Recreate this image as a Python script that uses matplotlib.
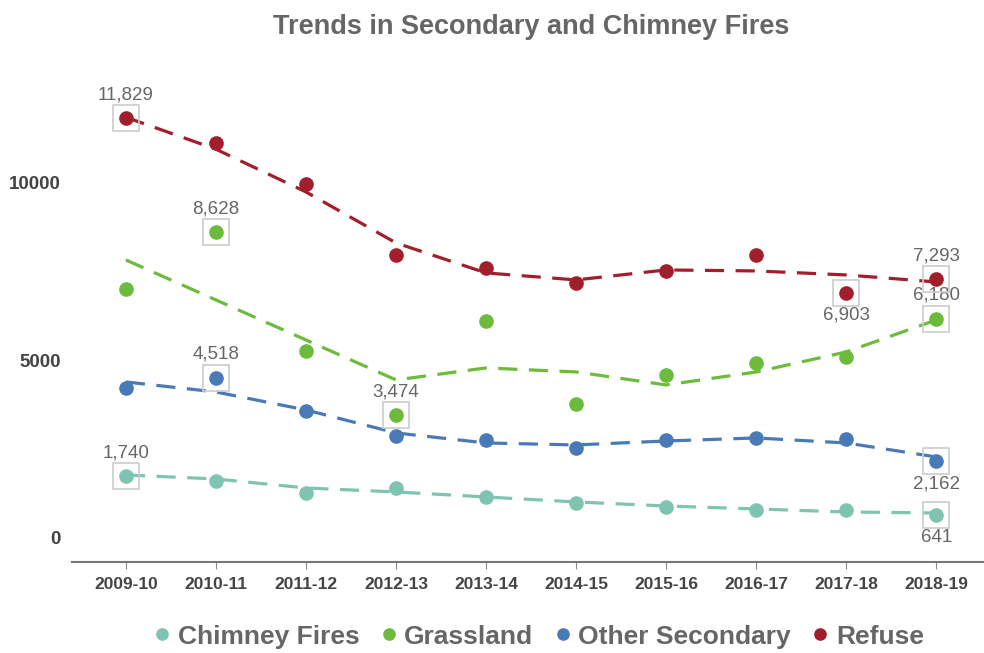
import numpy as np
import matplotlib
matplotlib.use("Agg")
import matplotlib.pyplot as plt

years = ["2009-10", "2010-11", "2011-12", "2012-13", "2013-14",
         "2014-15", "2015-16", "2016-17", "2017-18", "2018-19"]

# observed values (dots)
chimney = [1740, 1606, 1268, 1408, 1155, 986, 873, 789, 789, 641]
grassland = [7014, 8628, 5268, 3474, 6113, 3775, 4592, 4930, 5099, 6180]
other_secondary = [4225, 4518, 3577, 2873, 2761, 2535, 2761, 2817, 2789, 2162]
refuse = [11829, 11127, 9972, 7972, 7606, 7183, 7521, 7972, 6903, 7293]

# smoothed trend values (dashed lines)
chimney_trend = [1775, 1662, 1408, 1296, 1155, 1014, 901, 817, 732, 704]
grassland_trend = [7831, 6704, 5577, 4451, 4789, 4676, 4310, 4676, 5239, 6141]
other_trend = [4394, 4113, 3606, 2958, 2676, 2620, 2732, 2817, 2676, 2282]
refuse_trend = [11850, 10950, 9746, 8310, 7465, 7268, 7549, 7521, 7408, 7211]

# labelled points: (year index, position)
labels_chimney = [(0, "above"), (9, "below")]
labels_grass = [(1, "above"), (3, "above"), (9, "above")]
labels_other = [(1, "above"), (9, "below")]
labels_refuse = [(0, "above"), (8, "below"), (9, "above")]

names = ["Chimney Fires", "Grassland", "Other Secondary", "Refuse"]
colors = ["#7fc4b1", "#6cbb3c", "#4a7ab6", "#a11f2c"]

series = [
    (chimney, chimney_trend, labels_chimney),
    (grassland, grassland_trend, labels_grass),
    (other_secondary, other_trend, labels_other),
    (refuse, refuse_trend, labels_refuse),
]

grey = "#666666"
font = ["Liberation Sans", "DejaVu Sans"]

fig = plt.figure(figsize=(9.84, 6.53), dpi=100)
ax = fig.add_axes([0.073, 0.1394, 0.927, 0.7436])

x = np.arange(len(years))
for (vals, trend, labs), name, col in zip(series, names, colors):
    ax.plot(x, trend, color=col, lw=2.3, dashes=(6, 3.6), zorder=2)
    ax.plot(x, vals, "o", color=col, ms=9.5, zorder=3, label=name)
    for i, pos in labs:
        ax.plot(x[i], vals[i], "s", ms=19, mfc="none", mec="#cccccc",
                mew=1.2, zorder=4)
        dy = 10.5 if pos == "above" else -10
        ax.annotate(f"{vals[i]:,}", (x[i], vals[i]), xytext=(0, dy),
                    textcoords="offset points", ha="center",
                    va="bottom" if pos == "above" else "top",
                    fontsize=13.5, color=grey, family=font)

ax.set_xlim(-0.6, 9.53)
ax.set_ylim(-676, 13000)
ax.set_xticks(x)
ax.set_xticklabels(years, fontsize=12.5, fontweight="bold", color="#444444",
                   family=font)
ax.set_yticks([0, 5000, 10000])
ax.set_yticklabels(["0", "5000", "10000"], fontsize=13.5, fontweight="bold",
                   color="#444444", family=font)
ax.tick_params(axis="x", length=5, color="#888888", pad=6)
ax.tick_params(axis="y", length=0, pad=8)

for s in ["top", "right", "left"]:
    ax.spines[s].set_visible(False)
ax.spines["bottom"].set_color("#777777")
ax.spines["bottom"].set_linewidth(1.5)

fig.text(0.54, 0.958, "Trends in Secondary and Chimney Fires", ha="center",
         va="center", fontsize=19.5, fontweight="bold", color=grey, family=font)

leg = fig.legend(loc="center", bbox_to_anchor=(0.545, 0.025), ncol=4,
                 frameon=False, handletextpad=0.1, columnspacing=0.6,
                 markerscale=0.85, handlelength=1.0,
                 prop={"family": font, "weight": "bold", "size": 19})
for t in leg.get_texts():
    t.set_color(grey)

fig.savefig("out.png", dpi=100)
